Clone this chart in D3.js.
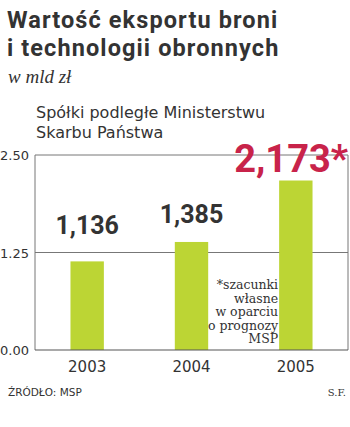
<!DOCTYPE html>
<html>
<head>
<meta charset="utf-8">
<script src="https://cdn.jsdelivr.net/npm/d3@7"></script>
<style>
  html, body { margin: 0; padding: 0; background: #fff; }
  svg { display: block; }
</style>
</head>
<body>
<script>
// Export values of state-owned arms companies, bln PLN
const years = ["2003", "2004", "2005"];
const values = [1.136, 1.385, 2.173];
const valueLabels = ["1,136", "1,385", "2,173*"];
const yTicks = [0, 1.25, 2.5];
const footnoteLines = ["*szacunki", "własne", "w oparciu", "o prognozy", "MSP"];

const W = 350, H = 427;
const svg = d3.select("body").append("svg").attr("width", W).attr("height", H);

const margin = { left: 35, right: 2, top: 155, bottom: 77 };
const x = d3.scaleBand().domain(years).range([margin.left, W - margin.right]).paddingInner(0.68).paddingOuter(0.34);
const y = d3.scaleLinear().domain([0, 2.5]).range([H - margin.bottom, margin.top]);

const dark = "#333";

// Headline
const headFont = "Roboto, 'Open Sans', sans-serif";
["Wartość eksportu broni", "i technologii obronnych"].forEach((t, i) => {
  svg.append("text").attr("x", 7).attr("y", 28 + i * 28)
    .attr("font-family", headFont).attr("font-weight", 700)
    .attr("font-size", 23.5).attr("letter-spacing", 1.1)
    .attr("fill", dark).text(t);
});
svg.append("text").attr("x", 8).attr("y", 83)
  .attr("font-family", "'Liberation Serif', 'DejaVu Serif', serif").attr("font-style", "italic")
  .attr("font-size", 19).attr("fill", dark).text("w mld zł");

// Series caption
["Spółki podległe Ministerstwu", "Skarbu Państwa"].forEach((t, i) => {
  svg.append("text").attr("x", 36).attr("y", 118 + i * 19.5)
    .attr("font-family", "'DejaVu Sans', sans-serif").attr("font-size", 16)
    .attr("fill", dark).text(t);
});

// Frame and gridlines
const grid = svg.append("g");
grid.selectAll("line.grid").data(yTicks.filter(d => d > 0)).join("line")
  .attr("x1", margin.left).attr("x2", W - margin.right)
  .attr("y1", d => y(d)).attr("y2", d => y(d))
  .attr("stroke", "#777").attr("stroke-width", 1);
grid.append("line").attr("x1", margin.left).attr("x2", margin.left)
  .attr("y1", y(2.5)).attr("y2", y(0)).attr("stroke", "#777");
grid.append("line").attr("x1", W - margin.right).attr("x2", W - margin.right)
  .attr("y1", y(2.5)).attr("y2", y(0)).attr("stroke", "#777");

// Bars
svg.selectAll("rect.bar").data(values).join("rect")
  .attr("x", (d, i) => x(years[i])).attr("width", x.bandwidth())
  .attr("y", d => y(d)).attr("height", d => y(0) - y(d))
  .attr("fill", "#bcd534");

// Baseline
svg.append("line").attr("x1", margin.left).attr("x2", W - margin.right)
  .attr("y1", y(0)).attr("y2", y(0)).attr("stroke", "#555").attr("stroke-width", 1.2);

// Y tick labels
svg.selectAll("text.ytick").data(yTicks).join("text")
  .attr("x", 0).attr("y", d => y(d) + 5)
  .attr("font-family", "'DejaVu Sans', sans-serif").attr("font-size", 13)
  .attr("fill", dark).text(d => d3.format(".2f")(d));

// X labels
svg.selectAll("text.xlab").data(years).join("text")
  .attr("x", d => x(d) + x.bandwidth() / 2).attr("y", 372)
  .attr("text-anchor", "middle")
  .attr("font-family", "'DejaVu Sans', sans-serif").attr("font-size", 15)
  .attr("fill", dark).text(d => d);

// Value labels
const labelOffsets = [27, 19, 9];
svg.selectAll("text.val").data(values).join("text")
  .attr("x", (d, i) => i === 2 ? W - 2 : x(years[i]) + x.bandwidth() / 2)
  .attr("y", (d, i) => y(d) - labelOffsets[i])
  .attr("text-anchor", (d, i) => i === 2 ? "end" : "middle")
  .attr("font-family", "Roboto, 'Open Sans', sans-serif").attr("font-weight", 700)
  .attr("font-size", (d, i) => i === 2 ? 38 : 25)
  .attr("fill", (d, i) => i === 2 ? "#c8234a" : dark)
  .text((d, i) => valueLabels[i]);

// Footnote
svg.selectAll("text.foot").data(footnoteLines).join("text")
  .attr("x", x("2005") - 1).attr("y", (d, i) => 289 + i * 13.6)
  .attr("text-anchor", "end")
  .attr("font-family", "'DejaVu Serif', serif").attr("font-size", 12.5)
  .attr("fill", dark).text(d => d);

// Source and initials
svg.append("text").attr("x", 8).attr("y", 396)
  .attr("font-family", "'DejaVu Sans', sans-serif").attr("font-size", 10.5)
  .attr("fill", dark).text("ŹRÓDŁO: MSP");
svg.append("text").attr("x", 346).attr("y", 396).attr("text-anchor", "end")
  .attr("font-family", "'DejaVu Serif', serif").attr("font-size", 10)
  .attr("fill", dark).text("S.F.");
</script>
</body>
</html>
